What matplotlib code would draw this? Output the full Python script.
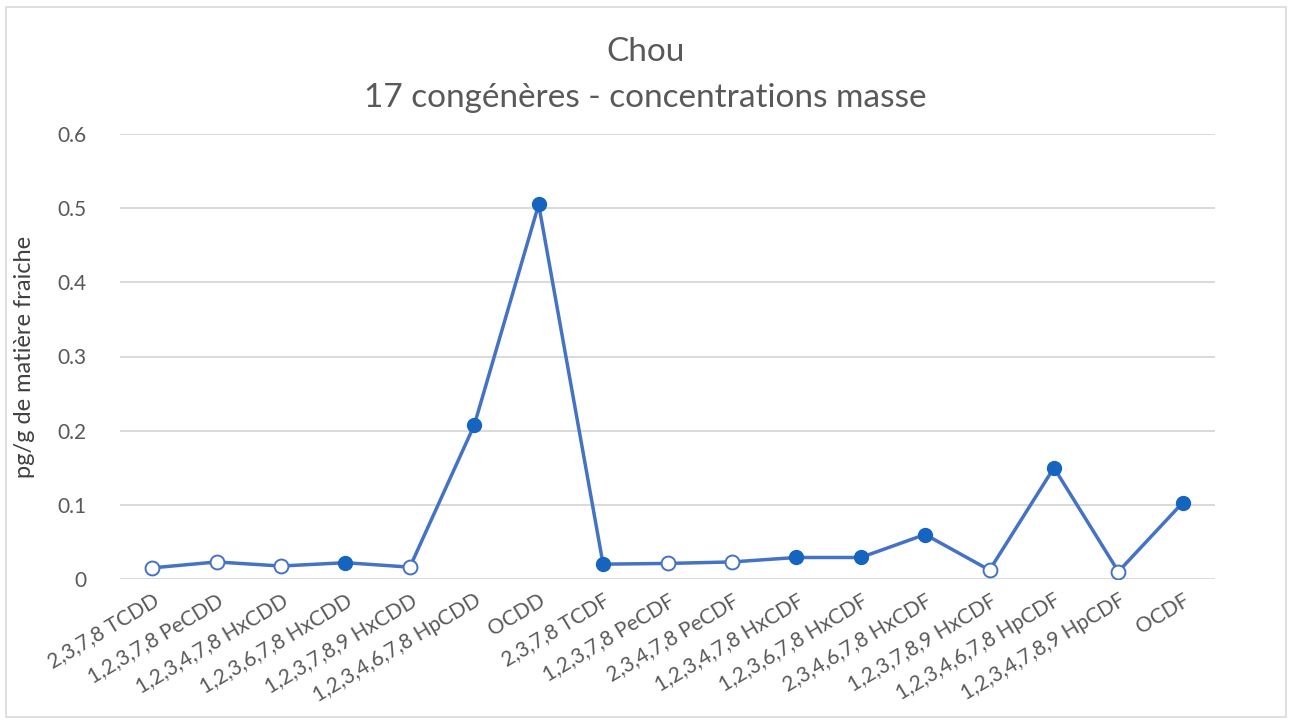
import matplotlib
import matplotlib.pyplot as plt
from matplotlib.patches import Rectangle

matplotlib.use('Agg')
plt.rcParams['font.family'] = ['Lato', 'DejaVu Sans']

# congénères et concentrations (pg/g de matière fraiche)
congeneres = ['2,3,7,8 TCDD', '1,2,3,7,8 PeCDD', '1,2,3,4,7,8 HxCDD',
              '1,2,3,6,7,8 HxCDD', '1,2,3,7,8,9 HxCDD', '1,2,3,4,6,7,8 HpCDD',
              'OCDD', '2,3,7,8 TCDF', '1,2,3,7,8 PeCDF', '2,3,4,7,8 PeCDF',
              '1,2,3,4,7,8 HxCDF', '1,2,3,6,7,8 HxCDF', '2,3,4,6,7,8 HxCDF',
              '1,2,3,7,8,9 HxCDF', '1,2,3,4,6,7,8 HpCDF', '1,2,3,4,7,8,9 HpCDF',
              'OCDF']
valeurs = [0.015, 0.023, 0.0175, 0.022, 0.016, 0.2075, 0.505, 0.020, 0.021,
           0.023, 0.029, 0.029, 0.060, 0.012, 0.150, 0.010, 0.103]
# True = point plein, False = point vide
plein = [False, False, False, True, False, True, True, True, False, False,
         True, True, True, False, True, False, True]
y_ticks = [0, 0.1, 0.2, 0.3, 0.4, 0.5, 0.6]

BLEU = '#4472C4'
BLEU_FONCE = '#1565C0'
GRIS = '#595959'

fig = plt.figure(figsize=(12.91, 7.22), dpi=100)
ax = fig.add_axes([120 / 1291, 1 - 579 / 722, 1095 / 1291, 445 / 722])

x = list(range(len(congeneres)))
ax.plot(x, valeurs, color=BLEU, linewidth=2.5, zorder=2)
xs_plein = [i for i in x if plein[i]]
ys_plein = [valeurs[i] for i in x if plein[i]]
xs_vide = [i for i in x if not plein[i]]
ys_vide = [valeurs[i] for i in x if not plein[i]]
ax.plot(xs_plein, ys_plein, 'o', color=BLEU_FONCE, markersize=10,
        markeredgecolor=BLEU_FONCE, zorder=3)
ax.plot(xs_vide, ys_vide, 'o', markerfacecolor='white', markersize=10,
        markeredgecolor=BLEU, markeredgewidth=1.4, zorder=3)

ax.set_xlim(-0.5, len(congeneres) - 0.5)
ax.set_ylim(0, 0.6)
ax.set_yticks(y_ticks)
ax.set_yticklabels([str(t) if t != 0 else '0' for t in y_ticks])
ax.set_xticks(x)
ax.set_xticklabels(congeneres, rotation=31, ha='right',
                   rotation_mode='anchor')
ax.tick_params(axis='both', length=0, colors=GRIS, labelsize=15)
ax.tick_params(axis='y', pad=24)
ax.tick_params(axis='x', pad=8)
ax.grid(axis='y', color='#D9D9D9', linewidth=1.4, zorder=0)
ax.set_axisbelow(True)
for s in ax.spines.values():
    s.set_visible(False)

ax.set_ylabel('pg/g de matière fraiche', fontsize=17, color='#404040')
ax.yaxis.set_label_coords(-0.078, 0.5)

fig.text(0.5, 1 - 52 / 722, 'Chou', ha='center', va='center',
         fontsize=24, color=GRIS)
fig.text(0.5, 1 - 98 / 722, '17 congénères - concentrations masse',
         ha='center', va='center', fontsize=24, color=GRIS)

fig.patches.append(Rectangle((6 / 1291, 5 / 722), 1280 / 1291, 710 / 722,
                             transform=fig.transFigure, fill=False,
                             edgecolor='#D9D9D9', linewidth=1.2))

fig.savefig('out.png', dpi=100)
